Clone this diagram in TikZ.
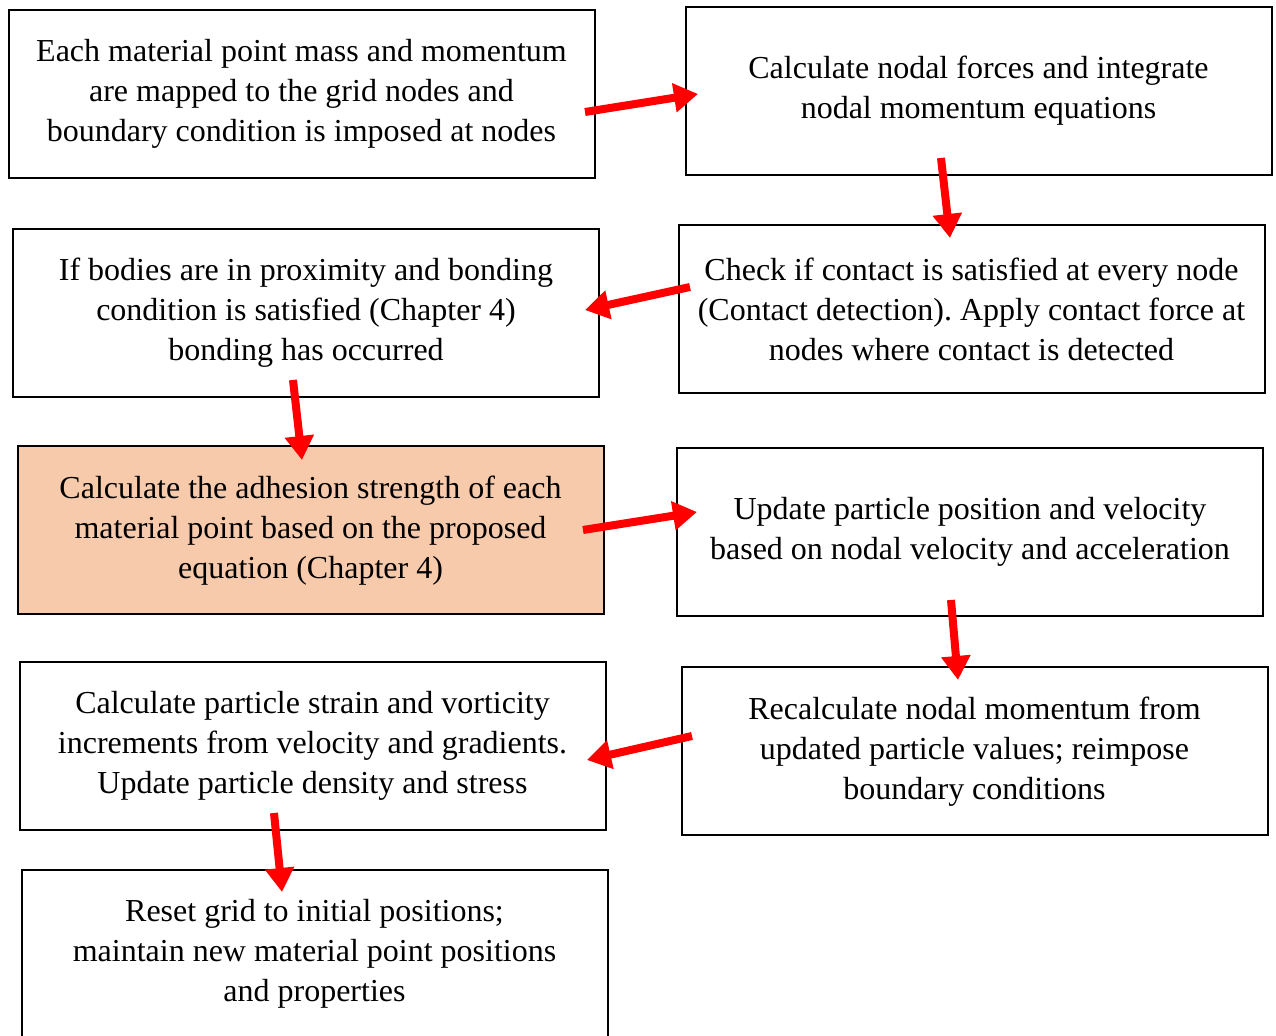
\documentclass[tikz,border=0pt]{standalone}
\usepackage{fontspec}
\setmainfont{Liberation Serif}
\usepackage{tikz}
\usetikzlibrary{arrows.meta}
\frenchspacing

\begin{document}
\begin{tikzpicture}[
    x=0.5pt, y=-0.5pt,
    stepbox/.style={draw, line width=1pt, rectangle, minimum width=293pt, minimum height=84pt,
        align=center, font=\fontsize{16}{20}\selectfont, inner sep=2pt},
    keybox/.style={stepbox, fill=peach},
    flowarrow/.style={-{Triangle[length=12pt, width=14pt]}, line width=4pt, red}
]
\definecolor{peach}{HTML}{F7CAAC}
\useasboundingbox (0,0) rectangle (1276,1036);
% --- Left column ---
\node[stepbox] (map) at (301.5,94) {Each material point mass and momentum\\are mapped to the grid nodes and\\boundary condition is imposed at nodes};
\node[stepbox] (bond) at (306,313) {If bodies are in proximity and bonding\\condition is satisfied (Chapter 4)\\bonding has occurred};
\node[keybox] (adhesion) at (310.5,530.5) {Calculate the adhesion strength of each\\material point based on the proposed\\equation (Chapter 4)};
\node[stepbox] (strain) at (312.5,746) {Calculate particle strain and vorticity\\increments from velocity and gradients.\\Update particle density and stress};
\node[stepbox] (reset) at (314.5,954) {Reset grid to initial positions;\\maintain new material point positions\\and properties};
% --- Right column ---
\node[stepbox] (forces) at (978.5,91) {Calculate nodal forces and integrate\\nodal momentum equations};
\node[stepbox] (contact) at (971.5,309.5) {Check if contact is satisfied at every node\\(Contact detection). Apply contact force at\\nodes where contact is detected};
\node[stepbox] (update) at (970,532) {Update particle position and velocity\\based on nodal velocity and acceleration};
\node[stepbox] (recalc) at (974.5,751.5) {Recalculate nodal momentum from\\updated particle values; reimpose\\boundary conditions};
% --- Arrow ends ---
\foreach \i/\sx/\sy/\ex/\ey in {1/585/112/698/94, 2/941/158/950/238, 3/690/287/585/310,
    4/293/380/302/460, 5/583/530/697/512, 6/951/600/958/680, 7/692/736/587/760, 8/274/813/282/892} {
    \coordinate (s\i) at (\sx,\sy);
    \coordinate (e\i) at (\ex,\ey);
}
% --- Arrows ---
\foreach \i in {1,...,8} {
    \draw[flowarrow] (s\i) -- (e\i);
}
\end{tikzpicture}
\end{document}
